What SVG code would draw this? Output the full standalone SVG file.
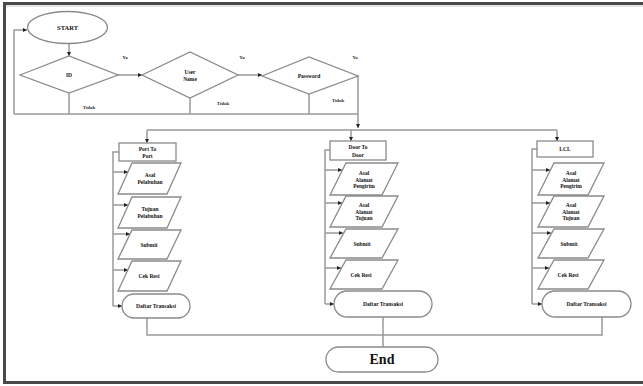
<svg xmlns="http://www.w3.org/2000/svg" width="643" height="386" viewBox="0 0 643 386">
<defs>
<marker id="ah" viewBox="0 0 6 6" refX="6" refY="3" markerWidth="4" markerHeight="4" orient="auto" markerUnits="userSpaceOnUse"><path d="M0,0 L6,3 L0,6 z" fill="#222"/></marker>
<style>
.sh{fill:#fff;stroke:#8a8a8a;stroke-width:1.3}
.ln{fill:none;stroke:#9a9a9a;stroke-width:1.5}
.ar{fill:none;stroke:#9a9a9a;stroke-width:1.5;marker-end:url(#ah)}
.t{font-family:"Liberation Serif",serif;font-weight:bold;font-size:5.5px;fill:#111;text-anchor:middle;dominant-baseline:central}
.lb{font-family:"Liberation Serif",serif;font-weight:bold;font-size:5px;fill:#333;text-anchor:middle;dominant-baseline:central}
.big{font-size:14px}
.st{font-size:6.5px}
</style>
</defs>
<rect x="0" y="0" width="643" height="386" fill="#fff"/>
<rect x="4.5" y="3.5" width="640" height="379" fill="none" stroke="#4a4a4a" stroke-width="3"/>
<line x1="6" y1="6" x2="643" y2="6" stroke="#c8c8c8" stroke-width="1"/>

<g id="connectors">
<line class="ar" x1="69" y1="43" x2="69" y2="56"/>
<line class="ar" x1="118" y1="75" x2="142" y2="75"/>
<line class="ar" x1="238" y1="75" x2="262" y2="75"/>
<line class="ar" x1="358" y1="76" x2="358" y2="128"/>
<polyline class="ln" points="69,93 69,114"/>
<polyline class="ln" points="190,98 190,114"/>
<polyline class="ln" points="309,94 309,114"/>
<line class="ln" x1="14" y1="114" x2="358" y2="114"/>
<polyline class="ar" points="14,114 14,30 27,30"/>
<line class="ln" x1="147" y1="130" x2="557" y2="130"/>
<line class="ar" x1="147" y1="130" x2="147" y2="143"/>
<line class="ar" x1="351" y1="130" x2="351" y2="141"/>
<line class="ar" x1="557" y1="130" x2="557" y2="141"/>
<polyline class="ln" points="119,152 113,152 113,306"/>
<line class="ar" x1="113" y1="172" x2="128" y2="172"/>
<line class="ar" x1="113" y1="205" x2="128" y2="205"/>
<line class="ar" x1="113" y1="234" x2="130" y2="234"/>
<line class="ar" x1="113" y1="270" x2="128" y2="270"/>
<line class="ar" x1="113" y1="306" x2="122" y2="306"/>
<polyline class="ln" points="330,150 325,150 325,304"/>
<line class="ar" x1="325" y1="170" x2="342" y2="170"/>
<line class="ar" x1="325" y1="203" x2="342" y2="203"/>
<line class="ar" x1="325" y1="233" x2="343" y2="233"/>
<line class="ar" x1="325" y1="268" x2="341" y2="268"/>
<line class="ar" x1="325" y1="304" x2="334" y2="304"/>
<polyline class="ln" points="537,149 532,149 532,304"/>
<line class="ar" x1="532" y1="170" x2="550" y2="170"/>
<line class="ar" x1="532" y1="203" x2="550" y2="203"/>
<line class="ar" x1="532" y1="233" x2="551" y2="233"/>
<line class="ar" x1="532" y1="268" x2="549" y2="268"/>
<line class="ar" x1="532" y1="304" x2="542" y2="304"/>
<polyline class="ln" points="147,318 147,335 602,335 602,317"/>
<line class="ln" x1="383" y1="317" x2="383" y2="347"/>
</g>

<g id="start"><ellipse class="sh" cx="67.5" cy="27.5" rx="40" ry="16"/><text class="t st" x="67.5" y="27.5">START</text></g>
<g id="id"><polygon class="sh" points="20,75 69,56 118,75 69,93"/><text class="t" x="69" y="75">ID</text></g>
<g id="username"><polygon class="sh" points="142,75 190,52 238,75 190,98"/><text class="t" x="190" y="72">User</text><text class="t" x="190" y="79">Name</text></g>
<g id="password"><polygon class="sh" points="262,76 309,57 358,76 309,94"/><text class="t" x="309" y="76">Password</text></g>
<g id="labels">
<text class="lb" x="125" y="57">Ya</text>
<text class="lb" x="242" y="57">Ya</text>
<text class="lb" x="355" y="57">Ya</text>
<text class="lb" x="89" y="107">Tidak</text>
<text class="lb" x="223" y="103">Tidak</text>
<text class="lb" x="338" y="100">Tidak</text>
</g>

<g id="port"><rect class="sh" x="119" y="143" width="57" height="18"/><text class="t" x="147.5" y="148.5">Port To</text><text class="t" x="147.5" y="155.5">Port</text></g>
<g id="p-asal"><polygon class="sh" points="132,163 181,163 167,194 118,194"/><text class="t" x="150" y="175">Asal</text><text class="t" x="150" y="182">Pelabuhan</text></g>
<g id="p-tujuan"><polygon class="sh" points="132,197 181,197 167,228 118,228"/><text class="t" x="150" y="209">Tujuan</text><text class="t" x="150" y="216">Pelabuhan</text></g>
<g id="p-submit"><polygon class="sh" points="132,230 181,230 167,259 118,259"/><text class="t" x="149" y="244.5">Submit</text></g>
<g id="p-cek"><polygon class="sh" points="132,261 181,261 167,291 118,291"/><text class="t" x="149" y="276">Cek Resi</text></g>
<g id="p-daftar"><rect class="sh" x="122" y="294" width="68" height="24" rx="12"/><text class="t" x="156" y="306">Daftar Transaksi</text></g>

<g id="door"><rect class="sh" x="330" y="141" width="56" height="19"/><text class="t" x="358" y="147">Door To</text><text class="t" x="358" y="154.5">Door</text></g>
<g id="d-asal"><polygon class="sh" points="346,163 398,163 382,195 330,195"/><text class="t" x="364" y="173">Asal</text><text class="t" x="364" y="179.5">Alamat</text><text class="t" x="364" y="186">Pengirim</text></g>
<g id="d-tujuan"><polygon class="sh" points="346,196 398,196 382,227 330,227"/><text class="t" x="364" y="205">Asal</text><text class="t" x="364" y="211.5">Alamat</text><text class="t" x="364" y="218">Tujuan</text></g>
<g id="d-submit"><polygon class="sh" points="346,229 398,229 382,258 330,258"/><text class="t" x="362" y="243.5">Submit</text></g>
<g id="d-cek"><polygon class="sh" points="346,260 398,260 382,289 330,289"/><text class="t" x="361" y="274.5">Cek Resi</text></g>
<g id="d-daftar"><rect class="sh" x="334" y="291" width="98" height="26" rx="13"/><text class="t" x="383" y="304">Daftar Transaksi</text></g>

<g id="lcl"><rect class="sh" x="537" y="141" width="56" height="16"/><text class="t" x="565" y="149">LCL</text></g>
<g id="l-asal"><polygon class="sh" points="554,163 604,163 588,195 538,195"/><text class="t" x="571" y="173">Asal</text><text class="t" x="571" y="179.5">Alamat</text><text class="t" x="571" y="186">Pengirim</text></g>
<g id="l-tujuan"><polygon class="sh" points="554,196 604,196 588,227 538,227"/><text class="t" x="571" y="205">Asal</text><text class="t" x="571" y="211.5">Alamat</text><text class="t" x="571" y="218">Tujuan</text></g>
<g id="l-submit"><polygon class="sh" points="554,229 604,229 588,258 538,258"/><text class="t" x="569" y="243.5">Submit</text></g>
<g id="l-cek"><polygon class="sh" points="554,260 604,260 588,289 538,289"/><text class="t" x="568" y="274.5">Cek Resi</text></g>
<g id="l-daftar"><rect class="sh" x="542" y="291" width="89" height="26" rx="13"/><text class="t" x="586.5" y="304">Daftar Transaksi</text></g>

<g id="end"><rect class="sh" x="326" y="347" width="112" height="25" rx="12.5"/><text class="t big" x="382" y="359.5">End</text></g>
</svg>
